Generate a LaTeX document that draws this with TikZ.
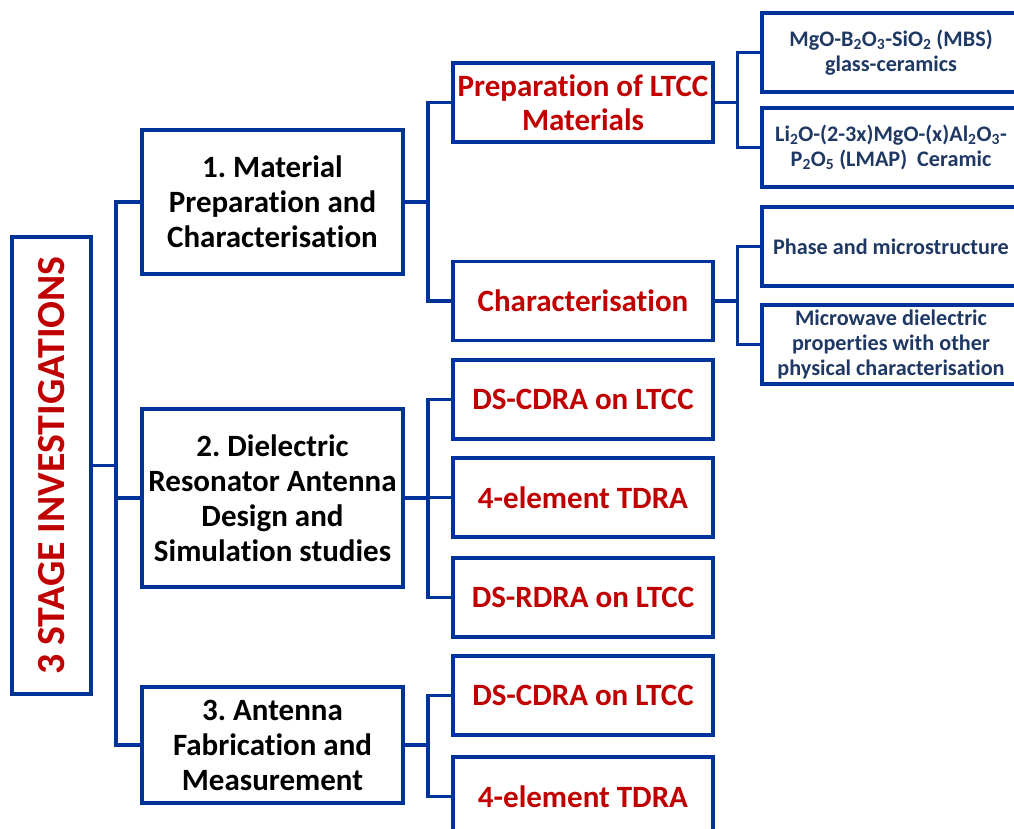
\documentclass[tikz,border=0pt]{standalone}
\usepackage{fontspec}
\setmainfont{Carlito}[Ligatures=NoCommon]
\frenchspacing
\definecolor{boxblue}{RGB}{0,51,153}
\definecolor{darkred}{RGB}{192,0,0}
\definecolor{navytext}{RGB}{31,56,100}

\begin{document}
\begin{tikzpicture}[x=1pt, y=-1pt,
    box/.style={draw=boxblue, line width=3.4pt, fill=white, inner sep=0pt, outer sep=0pt, align=center},
    stage/.style={box, minimum width=261pt, font=\fontsize{31}{35}\selectfont\bfseries},
    task/.style={box, minimum width=260pt, minimum height=79pt, text=darkred, font=\fontsize{31}{34}\selectfont\bfseries},
    item/.style={box, minimum width=258pt, minimum height=79pt, text=navytext, font=\fontsize{22.2}{25}\selectfont\bfseries},
    link/.style={draw=boxblue, line width=3.4pt}]
            \useasboundingbox (0,0) rectangle (1014,828);
            \fill[white] (0,0) rectangle (1014,828);
            \clip (0,0) rectangle (1014,828);

            % root
            \node[box, minimum width=79pt, minimum height=457pt] (root) at (51.5,465.5) {};
            \node[rotate=90, text=darkred, font=\fontsize{39.8}{40}\selectfont\bfseries] (rootlabel) at (root.center) {3 STAGE INVESTIGATIONS};

            % stages
            \node[stage, minimum height=144pt] (matprep) at (272.5,202) {1. Material\\Preparation and\\Characterisation};
            \node[stage, minimum height=178pt] (dradesign) at (272.5,498) {2. Dielectric\\Resonator Antenna\\Design and\\Simulation studies};
            \node[stage, minimum height=116pt] (antfab) at (272.5,745) {3. Antenna\\Fabrication and\\Measurement};

            % tasks
            \node[task] (ltcc) at (583,102.5) {Preparation of LTCC\\Materials};
            \node[task] (charac) at (583,301) {Characterisation};
            \node[task] (cdrasim) at (583,399.5) {DS-CDRA on LTCC};
            \node[task] (tdrasim) at (583,497.5) {4-element TDRA};
            \node[task] (rdrasim) at (583,597.5) {DS-RDRA on LTCC};
            \node[task] (cdrafab) at (583,695.5) {DS-CDRA on LTCC};
            \node[task] (tdrafab) at (583,796.5) {4-element TDRA};

            % items
            \node[item] (mbs) at (891,52.5) {MgO-B\textsubscript{2}O\textsubscript{3}-SiO\textsubscript{2} (MBS)\\glass-ceramics};
            \node[item] (lmap) at (891,147.5) {Li\textsubscript{2}O-(2-3x)MgO-(x)Al\textsubscript{2}O\textsubscript{3}-\\P\textsubscript{2}O\textsubscript{5} (LMAP)~~Ceramic};
            \node[item] (phase) at (891,246.5) {Phase and microstructure};
            \node[item] (mwdiel) at (891,344.5) {Microwave dielectric\\properties with other\\physical characterisation};

            % connectors
            \foreach \s in {matprep,dradesign,antfab}
                \draw[link] (root.east) -- ++(25,0) |- (\s.west);
            \foreach \t in {ltcc,charac}
                \draw[link] (matprep.east) -- ++(25,0) |- (\t.west);
            \foreach \t in {cdrasim,tdrasim,rdrasim}
                \draw[link] (dradesign.east) -- ++(25,0) |- (\t.west);
            \foreach \t in {cdrafab,tdrafab}
                \draw[link] (antfab.east) -- ++(25,0) |- (\t.west);
            \foreach \i in {mbs,lmap}
                \draw[link] (ltcc.east) -- ++(24.5,0) |- (\i.west);
            \foreach \i in {phase,mwdiel}
                \draw[link] (charac.east) -- ++(24.5,0) |- (\i.west);
        \end{tikzpicture}
\end{document}
